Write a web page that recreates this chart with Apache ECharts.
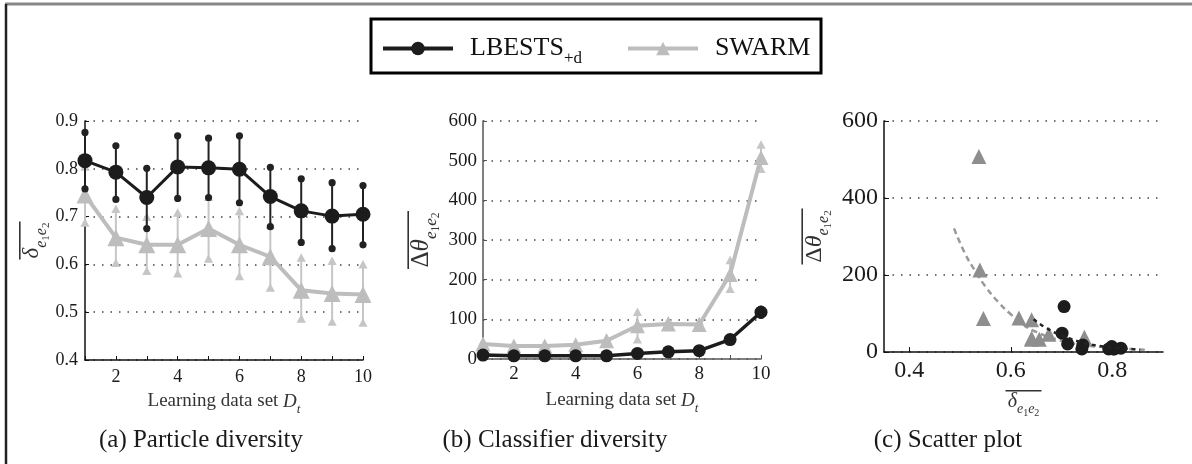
<!DOCTYPE html>
<html>
<head>
<meta charset="utf-8">
<script src="https://cdn.jsdelivr.net/npm/echarts@6/dist/echarts.min.js"></script>
<style>
html,body{margin:0;padding:0;background:#fff;}
#chart{width:1192px;height:464px;}
</style>
</head>
<body>
<div id="chart"></div>
<script>
// ---------- data ----------
const xValues = [1, 2, 3, 4, 5, 6, 7, 8, 9, 10];
const xTickLabels = [2, 4, 6, 8, 10];
const scatterXTicks = [0.4, 0.6, 0.8];

// (a) particle diversity
const lbestsDelta     = [0.817, 0.793, 0.740, 0.804, 0.802, 0.799, 0.742, 0.712, 0.701, 0.705];
const lbestsDeltaLow  = [0.758, 0.736, 0.675, 0.738, 0.740, 0.729, 0.679, 0.646, 0.633, 0.641];
const lbestsDeltaHigh = [0.876, 0.848, 0.801, 0.869, 0.864, 0.869, 0.803, 0.779, 0.771, 0.765];
const swarmDelta      = [0.745, 0.656, 0.641, 0.641, 0.675, 0.641, 0.616, 0.546, 0.539, 0.537];
const swarmDeltaLow   = [0.686, 0.602, 0.585, 0.580, 0.611, 0.574, 0.550, 0.485, 0.479, 0.477];
const swarmDeltaHigh  = [0.803, 0.715, 0.698, 0.707, 0.740, 0.710, 0.682, 0.613, 0.606, 0.599];

// (b) classifier diversity
const lbestsTheta     = [10, 8, 8, 8, 8, 14, 18, 21, 49, 118];
const lbestsThetaLow  = [7, 6, 6, 6, 6, 11, 15, 17, 44, 110];
const lbestsThetaHigh = [13, 10, 10, 10, 10, 17, 21, 25, 54, 126];
const swarmTheta      = [38, 33, 33, 36, 46, 84, 88, 87, 213, 508];
const swarmThetaLow   = [33, 29, 29, 32, 40, 48, 80, 80, 175, 478];
const swarmThetaHigh  = [43, 37, 37, 40, 52, 117, 96, 94, 248, 539];

// (c) trend curves
const swarmTrend  = [[0.488, 321], [0.51, 255], [0.53, 210], [0.55, 170], [0.575, 130], [0.6, 98], [0.626, 70], [0.65, 52], [0.69, 33], [0.74, 19], [0.8, 11], [0.864, 6]];
const lbestsTrend = [[0.645, 85], [0.67, 62], [0.7, 43], [0.73, 29], [0.76, 19], [0.8, 12], [0.855, 6]];

// ---------- helpers ----------
const SERIF = 'Liberation Serif';
const BLACK = '#1c1c1c';
const GRAY = '#bdbdbd';

function pairs(xs, ys) { return xs.map((x, i) => [x, ys[i]]); }
function triples(xs, lo, hi) { return xs.map((x, i) => [x, lo[i], hi[i]]); }

function errRender(kind, color) {
  return function (params, api) {
    const x = api.value(0), lo = api.value(1), hi = api.value(2);
    const p1 = api.coord([x, lo]), p2 = api.coord([x, hi]);
    const children = [{
      type: 'line',
      shape: { x1: p1[0], y1: p1[1], x2: p2[0], y2: p2[1] },
      style: { stroke: color, lineWidth: 2 }
    }];
    [p1, p2].forEach(p => {
      if (kind === 'circle') {
        children.push({ type: 'circle', shape: { cx: p[0], cy: p[1], r: 3.6 }, style: { fill: color } });
      } else {
        children.push({ type: 'polygon', shape: { points: [[p[0], p[1] - 5], [p[0] - 4.6, p[1] + 3.5], [p[0] + 4.6, p[1] + 3.5]] }, style: { fill: color } });
      }
    });
    return { type: 'group', children };
  };
}

function nameRich(big, sub, subsub, olWidth) {
  return {
    ol: { width: olWidth, height: 1.6, lineHeight: 1.6, fontSize: 1, backgroundColor: '#333' },
    D: { fontFamily: SERIF, fontSize: big, lineHeight: big + 3, verticalAlign: 'top', color: '#333' },
    d: { fontFamily: SERIF, fontStyle: 'italic', fontSize: big, lineHeight: big + 3, verticalAlign: 'top', color: '#333' },
    s: { fontFamily: SERIF, fontStyle: 'italic', fontSize: sub, lineHeight: sub, padding: [Math.round(big * 0.55), 0, 0, 0], verticalAlign: 'top', color: '#333' },
    ss: { fontFamily: SERIF, fontSize: subsub, lineHeight: subsub, padding: [Math.round(big * 0.85), 0, 0, 0], verticalAlign: 'top', color: '#333' }
  };
}

const deltaName = '{ol| }\n{d|δ}{s|e}{ss|1}{s|e}{ss|2}';
const thetaName = '{ol| }\n{D|Δ}{d|θ}{s|e}{ss|1}{s|e}{ss|2}';
const learnName = '{n|Learning data set }{i|D}{t|t}';
const learnRich = {
  n: { fontFamily: SERIF, fontSize: 19, lineHeight: 22, verticalAlign: 'top', color: '#333' },
  i: { fontFamily: SERIF, fontStyle: 'italic', fontSize: 19, lineHeight: 22, verticalAlign: 'top', color: '#333' },
  t: { fontFamily: SERIF, fontStyle: 'italic', fontSize: 13, lineHeight: 13, padding: [11, 0, 0, 0], verticalAlign: 'top', color: '#333' }
};

const dotted = { color: '#444', width: 1.5, type: [1.5, 7] };

const chart = echarts.init(document.getElementById('chart'), null, { renderer: 'canvas' });

const option = {
  animation: false,
  backgroundColor: '#fff',
  legend: {
    data: ['LBESTS', 'SWARM'],
    left: 381,
    top: 30,
    itemWidth: 70,
    itemHeight: 17,
    itemGap: 44,
    padding: 0,
    lineStyle: { width: 4 },
    formatter: n => n === 'LBESTS' ? '{m|LBESTS}{s|+d}' : '{m|SWARM}',
    textStyle: {
      padding: [0, 0, 0, 12],
      rich: {
        m: { fontFamily: SERIF, fontSize: 26, lineHeight: 30, verticalAlign: 'middle', color: '#111' },
        s: { fontFamily: SERIF, fontSize: 17, lineHeight: 19, padding: [20, 0, 0, 0], verticalAlign: 'middle', color: '#111' }
      }
    }
  },
  graphic: [
    { type: 'line', shape: { x1: 5, y1: 4, x2: 1192, y2: 4 }, style: { stroke: '#888', lineWidth: 3 } },
    { type: 'line', shape: { x1: 6, y1: 4, x2: 6, y2: 464 }, style: { stroke: '#222', lineWidth: 2.5 } },
    { type: 'rect', shape: { x: 371, y: 19, width: 450, height: 54 }, style: { fill: 'none', stroke: '#000', lineWidth: 3 }, z: 10 },
    { type: 'text', x: 201, y: 440, style: { text: '(a) Particle diversity', font: '25px "Liberation Serif"', fill: '#1a1a1a', align: 'center', verticalAlign: 'middle' } },
    { type: 'text', x: 555, y: 440, style: { text: '(b) Classifier diversity', font: '25px "Liberation Serif"', fill: '#1a1a1a', align: 'center', verticalAlign: 'middle' } },
    { type: 'text', x: 948, y: 440, style: { text: '(c) Scatter plot', font: '25px "Liberation Serif"', fill: '#1a1a1a', align: 'center', verticalAlign: 'middle' } }
  ],
  grid: [
    { left: 85, right: 829, top: 121, bottom: 104 },
    { left: 483, right: 431, top: 121, bottom: 105 },
    { left: 884, right: 29, top: 121, bottom: 112 }
  ],
  xAxis: [
    {
      gridIndex: 0, type: 'value', min: 1, max: 10, interval: 1,
      axisLine: { lineStyle: { color: '#111', width: 1.5 } },
      axisTick: { inside: true, length: 4, lineStyle: { color: '#111' } },
      axisLabel: { customValues: xTickLabels, margin: 8, fontFamily: SERIF, fontSize: 18, color: '#1a1a1a' },
      splitLine: { show: false },
      name: learnName, nameLocation: 'middle', nameGap: 32,
      nameTextStyle: { rich: learnRich }
    },
    {
      gridIndex: 1, type: 'value', min: 1, max: 10, interval: 1,
      axisLine: { lineStyle: { color: '#555', width: 1.5 } },
      axisTick: { inside: true, length: 4, lineStyle: { color: '#555' } },
      axisLabel: { customValues: xTickLabels, margin: 6, fontFamily: SERIF, fontSize: 19, color: '#1a1a1a' },
      splitLine: { show: false },
      name: learnName, nameLocation: 'middle', nameGap: 32,
      nameTextStyle: { rich: learnRich }
    },
    {
      gridIndex: 2, type: 'value', min: 0.35, max: 0.9,
      axisLine: { lineStyle: { color: '#111', width: 1.5 } },
      axisTick: { inside: true, length: 5, customValues: scatterXTicks, lineStyle: { color: '#111' } },
      axisLabel: { customValues: scatterXTicks, margin: 7, fontFamily: SERIF, fontSize: 24, color: '#1a1a1a' },
      splitLine: { show: false },
      name: deltaName, nameLocation: 'middle', nameGap: 38,
      nameTextStyle: { rich: nameRich(20, 14, 10, 36) }
    }
  ],
  yAxis: [
    {
      gridIndex: 0, type: 'value', min: 0.4, max: 0.9, interval: 0.1,
      axisLine: { show: true, lineStyle: { color: '#111', width: 1.5 } },
      axisTick: { show: true, inside: true, length: 4, lineStyle: { color: '#111' } },
      axisLabel: { margin: 7, fontFamily: SERIF, fontSize: 18, color: '#1a1a1a', formatter: v => v.toFixed(1) },
      splitLine: { show: true, lineStyle: dotted },
      name: deltaName, nameLocation: 'middle', nameGap: 35,
      nameTextStyle: { rich: nameRich(23, 16, 11, 38) }
    },
    {
      gridIndex: 1, type: 'value', min: 0, max: 600, interval: 100,
      axisLine: { show: true, lineStyle: { color: '#555', width: 1.5 } },
      axisTick: { show: true, inside: true, length: 4, lineStyle: { color: '#555' } },
      axisLabel: { margin: 6, fontFamily: SERIF, fontSize: 19, color: '#1a1a1a' },
      splitLine: { show: true, lineStyle: dotted },
      name: thetaName, nameLocation: 'middle', nameGap: 46,
      nameTextStyle: { rich: nameRich(25, 17, 11.5, 58) }
    },
    {
      gridIndex: 2, type: 'value', min: 0, max: 600, interval: 200,
      axisLine: { show: true, lineStyle: { color: '#111', width: 1.5 } },
      axisTick: { show: true, inside: true, length: 5, lineStyle: { color: '#111' } },
      axisLabel: { margin: 6, fontFamily: SERIF, fontSize: 24, color: '#1a1a1a' },
      splitLine: { show: true, lineStyle: dotted },
      name: thetaName, nameLocation: 'middle', nameGap: 54,
      nameTextStyle: { rich: nameRich(24, 16, 11, 56) }
    }
  ],
  series: [
    // ----- (a) -----
    { type: 'custom', name: 'errA_swarm', xAxisIndex: 0, yAxisIndex: 0, renderItem: errRender('triangle', '#c6c6c6'), encode: { x: 0, y: [1, 2] }, data: triples(xValues, swarmDeltaLow, swarmDeltaHigh), z: 2, clip: false },
    { type: 'line', name: 'SWARM', xAxisIndex: 0, yAxisIndex: 0, data: pairs(xValues, swarmDelta), symbol: 'triangle', symbolSize: 17, lineStyle: { color: GRAY, width: 4 }, itemStyle: { color: GRAY }, z: 3 },
    { type: 'custom', name: 'errA_lbests', xAxisIndex: 0, yAxisIndex: 0, renderItem: errRender('circle', '#222'), encode: { x: 0, y: [1, 2] }, data: triples(xValues, lbestsDeltaLow, lbestsDeltaHigh), z: 4, clip: false },
    { type: 'line', name: 'LBESTS', xAxisIndex: 0, yAxisIndex: 0, data: pairs(xValues, lbestsDelta), symbol: 'circle', symbolSize: 15, lineStyle: { color: BLACK, width: 3 }, itemStyle: { color: BLACK }, z: 5 },
    // ----- (b) -----
    { type: 'custom', name: 'errB_swarm', xAxisIndex: 1, yAxisIndex: 1, renderItem: errRender('triangle', '#c6c6c6'), encode: { x: 0, y: [1, 2] }, data: triples(xValues, swarmThetaLow, swarmThetaHigh), z: 2, clip: false },
    { type: 'line', name: 'SWARM', xAxisIndex: 1, yAxisIndex: 1, data: pairs(xValues, swarmTheta), symbol: 'triangle', symbolSize: 15, lineStyle: { color: GRAY, width: 4 }, itemStyle: { color: GRAY }, z: 3 },
    { type: 'custom', name: 'errB_lbests', xAxisIndex: 1, yAxisIndex: 1, renderItem: errRender('circle', '#222'), encode: { x: 0, y: [1, 2] }, data: triples(xValues, lbestsThetaLow, lbestsThetaHigh), z: 4, clip: false },
    { type: 'line', name: 'LBESTS', xAxisIndex: 1, yAxisIndex: 1, data: pairs(xValues, lbestsTheta), symbol: 'circle', symbolSize: 13, lineStyle: { color: BLACK, width: 3.5 }, itemStyle: { color: BLACK }, z: 5 },
    // ----- (c) -----
    { type: 'line', name: 'trendSwarm', xAxisIndex: 2, yAxisIndex: 2, data: swarmTrend, smooth: true, showSymbol: false, lineStyle: { color: '#9a9a9a', width: 2.5, type: [6, 4] }, z: 2 },
    { type: 'scatter', name: 'SWARM', xAxisIndex: 2, yAxisIndex: 2, data: xValues.map((_, i) => [swarmDelta[i], swarmTheta[i]]), symbol: 'triangle', symbolSize: 15, itemStyle: { color: '#8e8e8e', opacity: 1 }, z: 3 },
    { type: 'scatter', name: 'LBESTS', xAxisIndex: 2, yAxisIndex: 2, data: xValues.map((_, i) => [lbestsDelta[i], lbestsTheta[i]]), symbol: 'circle', symbolSize: 13, itemStyle: { color: BLACK, opacity: 1 }, z: 4 },
    { type: 'line', name: 'trendLbests', xAxisIndex: 2, yAxisIndex: 2, data: lbestsTrend, smooth: true, showSymbol: false, lineStyle: { color: '#222', width: 2.5, type: [4, 4] }, z: 5 }
  ]
};

chart.setOption(option);
</script>
</body>
</html>
